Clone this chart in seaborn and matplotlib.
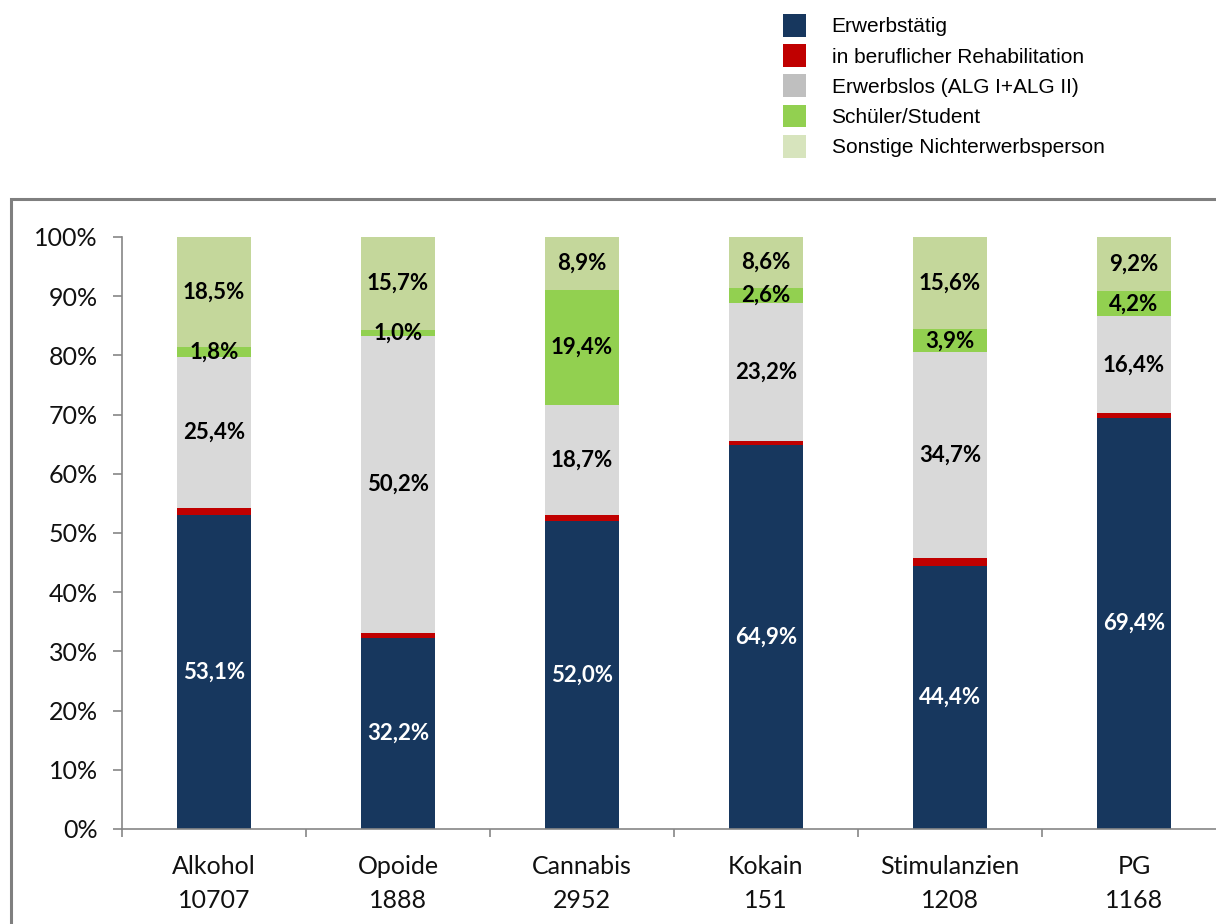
import numpy as np
import pandas as pd
import matplotlib.pyplot as plt
from matplotlib.patches import Patch, Rectangle
from matplotlib.ticker import FixedLocator, FuncFormatter
import seaborn as sns

# ============ DATEN ============
kategorien = ['Alkohol', 'Opoide', 'Cannabis', 'Kokain', 'Stimulanzien', 'PG']
fallzahlen = ['10707', '1888', '2952', '151', '1208', '1168']

erwerbstaetig  = [53.1, 32.2, 52.0, 64.9, 44.4, 69.4]
rehabilitation = [1.2, 0.9, 1.0, 0.7, 1.4, 0.8]
erwerbslos     = [25.4, 50.2, 18.7, 23.2, 34.7, 16.4]
schueler       = [1.8, 1.0, 19.4, 2.6, 3.9, 4.2]
sonstige       = [18.5, 15.7, 8.9, 8.6, 15.6, 9.2]

serien = ['Erwerbstätig', 'in beruflicher Rehabilitation', 'Erwerbslos (ALG I+ALG II)',
          'Schüler/Student', 'Sonstige Nichterwerbsperson']
werte = [erwerbstaetig, rehabilitation, erwerbslos, schueler, sonstige]

bar_farben    = ['#17375E', '#C00000', '#D9D9D9', '#92D050', '#C4D79B']
legend_farben = ['#17375E', '#C00000', '#BFBFBF', '#92D050', '#D7E4BD']
label_farben  = ['white', None, 'black', 'black', 'black']

x_labels = [f'{k}\n{n}' for k, n in zip(kategorien, fallzahlen)]

df = pd.DataFrame({'kategorie': x_labels})
for s, w in zip(serien, werte):
    df[s] = w
kum = df[serien].cumsum(axis=1)

# ============ PLOT ============
sns.set_style('white')
plt.rcParams['font.family'] = ['Lato', 'DejaVu Sans']

fig = plt.figure(figsize=(12.16, 9.24), dpi=100)
ax = fig.add_axes([122 / 1216, 1 - 829 / 924, 1104 / 1216, 592 / 924])

# gestapelte Balken: kumulierte Summen von oben nach unten zeichnen
for i in reversed(range(len(serien))):
    sns.barplot(data=kum.assign(kategorie=x_labels), x='kategorie', y=serien[i],
                color=bar_farben[i], saturation=1, width=0.4, errorbar=None,
                linewidth=0, ax=ax)

# Werte-Beschriftung
for i, s in enumerate(serien):
    if label_farben[i] is None:
        continue
    for j in range(len(kategorien)):
        v = df[s].iloc[j]
        mitte = kum[s].iloc[j] - v / 2
        ax.text(j, mitte, f'{v:.1f}'.replace('.', ',') + '%', ha='center', va='center',
                fontsize=16, fontweight='bold', color=label_farben[i])

ax.set_xlim(-0.5, len(kategorien) - 0.5)
ax.set_ylim(0, 100)
ax.set_yticks(np.arange(0, 101, 10))
ax.yaxis.set_major_formatter(FuncFormatter(lambda v, p: f'{v:.0f}%'))
ax.set_xlabel('')
ax.set_ylabel('')

sns.despine(ax=ax, top=True, right=True)
for sp in ['left', 'bottom']:
    ax.spines[sp].set_color('#868686')
    ax.spines[sp].set_linewidth(1.2)

ax.tick_params(axis='y', direction='out', length=6.5, width=1.2, color='#868686',
               labelsize=18, labelcolor='#111111', pad=11, left=True)
ax.tick_params(axis='x', which='major', length=0, labelsize=18, labelcolor='#111111', pad=19)
ax.xaxis.set_minor_locator(FixedLocator(np.arange(-0.5, len(kategorien), 1)))
ax.tick_params(axis='x', which='minor', direction='out', length=6, width=1.2,
               color='#868686', bottom=True)
for t in ax.get_xticklabels():
    t.set_linespacing(1.55)

# Rahmen um das Diagramm
fig.patches.append(Rectangle((10.5 / 1216, -0.2), 1.5, 1 - 198.5 / 924 + 0.2,
                             transform=fig.transFigure, fill=False,
                             edgecolor='#7F7F7F', linewidth=2.2, zorder=0))

# Legende
handles = [Patch(facecolor=c, edgecolor='none', label=l) for c, l in zip(legend_farben, serien)]
fig.legend(handles=handles, loc='upper left', bbox_to_anchor=(783 / 1216, 1 - 14 / 924),
           frameon=False, borderpad=0, borderaxespad=0, handlelength=1.08, handleheight=1.3,
           handletextpad=1.25, labelspacing=0.36, labelcolor='black',
           prop={'family': 'Liberation Sans', 'size': 15})

plt.savefig('out.png', dpi=100)
